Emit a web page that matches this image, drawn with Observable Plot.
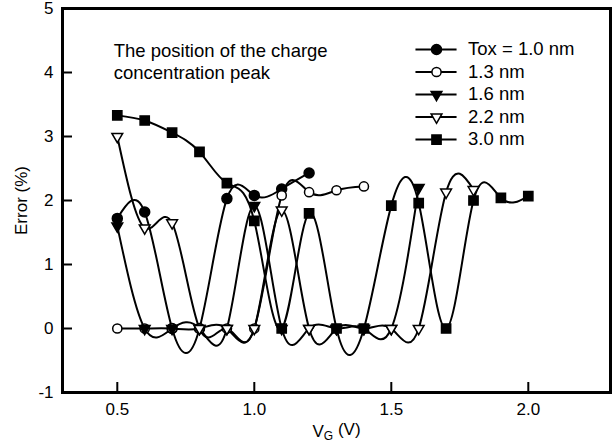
<!DOCTYPE html>
<html>
<head>
<meta charset="utf-8">
<script src="https://cdn.jsdelivr.net/npm/d3@7"></script>
<script src="https://cdn.jsdelivr.net/npm/@observablehq/plot@0.6"></script>
<style>
  html, body { margin: 0; padding: 0; background: #fff; }
</style>
</head>
<body>
<div id="chart"></div>
<script>
// ---- data ----
const vg = [0.5, 0.6, 0.7, 0.8, 0.9, 1.0, 1.1, 1.2, 1.3, 1.4, 1.5, 1.6, 1.7, 1.8, 1.9, 2.0];
const seriesNames = ["Tox = 1.0 nm", "1.3 nm", "1.6 nm", "2.2 nm", "3.0 nm"];
const tox10 = [1.72, 1.82, 0, 0, 2.03, 2.08, 2.18, 2.43];
const tox13 = [0, 0, 0, 0, 0, 0, 2.08, 2.13, 2.16, 2.22];
const tox16 = [1.60, 0, 0, 0, 0, 1.92, 0, 0, 0, 0, 0, 2.20];
const tox22 = [3.00, 1.57, 1.65, 0, 0, 0, 1.85, 0, 0, 0, 0, 0, 2.13, 2.17];
const tox30 = [3.33, 3.25, 3.06, 2.76, 2.27, 1.68, 0, 1.80, 0, 0, 1.92, 1.96, 0, 2.00, 2.04, 2.07];
const xTicks = [0.5, 1.0, 1.5, 2.0];
const yTicks = [-1, 0, 1, 2, 3, 4, 5];
const annotationLines = ["The position of the charge", "concentration peak"];

const values = [tox10, tox13, tox16, tox22, tox30];
const rows = [];
values.forEach((arr, si) => arr.forEach((v, i) => rows.push({series: seriesNames[si], vg: vg[i], err: v})));

// downward triangle symbol
const triDown = {
  draw(context, size) {
    const y = -Math.sqrt(size / (Math.sqrt(3) * 3));
    context.moveTo(0, -y * 2);
    context.lineTo(-Math.sqrt(3) * y, y);
    context.lineTo(Math.sqrt(3) * y, y);
    context.closePath();
  }
};
const styles = [
  {symbol: "circle", fill: "black", stroke: "black", r: 5},
  {symbol: "circle", fill: "white", stroke: "black", r: 4.6},
  {symbol: triDown, fill: "black", stroke: "black", r: 4},
  {symbol: triDown, fill: "white", stroke: "black", r: 4},
  {symbol: "square", fill: "black", stroke: "black", r: 5.2}
];

// layout of the in-plot legend (data units)
const W = 613, H = 448, mL = 62, mR = 3, mT = 8, mB = 56;
const legX1 = 1.59, legX2 = 1.74, legMid = 1.665, legText = 1.78;
const legTop = 4.36, legStep = 0.352;
const legend = seriesNames.map((name, i) => ({name, i, y: legTop - i * legStep}));
const annot = annotationLines.map((t, i) => ({t, y: 4.34 - i * 0.345}));

const marks = [
  Plot.frame({stroke: "black", strokeWidth: 3}),
  Plot.tickY(yTicks, {y: d => d, insetRight: (W - mL - mR) - 10, strokeWidth: 2}),
  Plot.tickX(xTicks, {x: d => d, insetTop: (H - mT - mB) - 10, strokeWidth: 2}),
  Plot.line(rows, {x: "vg", y: "err", z: "series", curve: "natural", stroke: "black", strokeWidth: 2})
];
seriesNames.forEach((name, si) => {
  const s = styles[si];
  marks.push(Plot.dot(rows.filter(d => d.series === name), {x: "vg", y: "err", symbol: s.symbol, fill: s.fill, stroke: s.stroke, strokeWidth: 1.5, r: s.r}));
});
marks.push(Plot.ruleY(legend, {y: "y", x1: legX1, x2: legX2, stroke: "black", strokeWidth: 2}));
legend.forEach(l => {
  const s = styles[l.i];
  marks.push(Plot.dot([l], {x: legMid, y: "y", symbol: s.symbol, fill: s.fill, stroke: s.stroke, strokeWidth: 1.5, r: s.r}));
});
marks.push(Plot.text(legend, {x: legText, y: "y", text: "name", textAnchor: "start", fontSize: 18.5, fill: "black"}));
marks.push(Plot.text(annot, {x: 0.487, y: "y", text: "t", textAnchor: "start", fontSize: 18.5, fill: "black"}));

const chart = Plot.plot({
  width: W, height: H,
  marginTop: mT, marginBottom: mB, marginLeft: mL, marginRight: mR,
  style: {fontFamily: "'Liberation Sans', Arial, sans-serif", fontSize: "17px", color: "black", background: "white", overflow: "visible"},
  x: {domain: [0.3, 2.3], ticks: xTicks, tickFormat: d3.format(".1f"), tickSize: 0, tickPadding: 10,
      label: "VG (V)", labelAnchor: "center", labelOffset: 44, labelArrow: false},
  y: {domain: [-1, 5], ticks: yTicks, tickFormat: d => String(d), tickSize: 0, tickPadding: 9,
      label: "Error (%)", labelAnchor: "center", labelOffset: 48, labelArrow: false},
  marks
});
document.getElementById("chart").appendChild(chart);

// subscript G in the x-axis label
d3.select(chart).selectAll("text").each(function() {
  if (this.textContent === "VG (V)") {
    const t = d3.select(this);
    t.text("");
    t.append("tspan").text("V");
    t.append("tspan").attr("dy", "0.3em").attr("font-size", "12px").text("G");
    t.append("tspan").attr("dy", "-0.3em").text(" (V)");
  }
});
</script>
</body>
</html>
